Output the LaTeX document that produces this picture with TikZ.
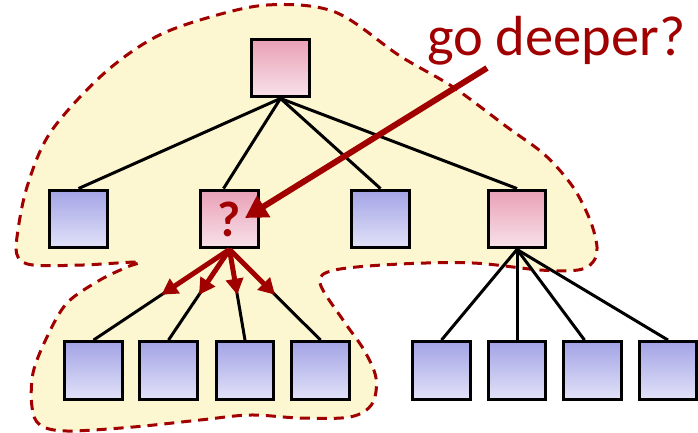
\documentclass[tikz,border=0pt]{standalone}
\usepackage{fontspec}
\setmainfont{Carlito}
\usetikzlibrary{arrows.meta,calc}
\definecolor{deepred}{RGB}{160,0,0}
\definecolor{blobfill}{RGB}{252,247,208}
\definecolor{pinktop}{RGB}{233,160,182}
\definecolor{pinkbot}{RGB}{248,226,234}
\definecolor{bluetop}{RGB}{163,163,230}
\definecolor{bluebot}{RGB}{226,226,248}
\begin{document}
\begin{tikzpicture}[x=1pt,y=-1pt,
  box/.style={draw=black, line width=3.4pt, minimum size=57.5pt, inner sep=0pt},
  pinkbox/.style={box, top color=pinktop, bottom color=pinkbot},
  bluebox/.style={box, top color=bluetop, bottom color=bluebot},
  edge/.style={line width=3pt, black},
  bigarrow/.style={deepred, line width=6pt, -{Triangle[length=22pt,width=24pt]}},
  smallarrow/.style={deepred, line width=5pt, -{Triangle[length=16pt,width=17pt]}},
  region/.style={fill=blobfill, draw=deepred, line width=3pt, dash pattern=on 10pt off 7pt}
]
\useasboundingbox (0,0) rectangle (698,432);

% explored region of the search tree
\draw[region] plot[smooth cycle, tension=0.55] coordinates {
  (200,20) (267,5) (335,12) (400,56) (453,87) (507,127) (545,155) (573,187)
  (590,220) (597,247) (593,262) (578,270) (540,270) (473,263) (400,264)
  (335,270) (320,283) (343,320) (364,350) (376,378) (372,404) (350,417)
  (300,418) (250,415) (200,420) (133,427) (67,431) (40,425) (32,407)
  (33,373) (47,337) (67,303) (100,280) (127,267) (138,262) (83,265)
  (33,265) (18,257) (17,237) (27,187) (50,133) (100,77) (150,40)};

% tree nodes
\node[pinkbox] (r) at (280.5,68) {};
\node[bluebox] (a) at (78.5,219) {};
\node[pinkbox, text=deepred, font=\bfseries\fontsize{50}{50}\selectfont] (q) at (229.5,219) {?};
\node[bluebox] (b) at (380.5,219) {};
\node[pinkbox] (p) at (517,219) {};

\node[bluebox] (c1) at (93.5,370.5) {};
\node[bluebox] (c2) at (168.5,370.5) {};
\node[bluebox] (c3) at (245,370.5) {};
\node[bluebox] (c4) at (320.5,370.5) {};
\node[bluebox] (d1) at (441.5,370.5) {};
\node[bluebox] (d2) at (517,370.5) {};
\node[bluebox] (d3) at (592.5,370.5) {};
\node[bluebox] (d4) at (668,370.5) {};

% tree edges
\draw[edge] (r.south) -- (a.north);
\draw[edge] (r.south) -- ([xshift=-6pt]q.north);
\draw[edge] (r.south) -- (b.north);
\draw[edge] (r.south) -- (p.north);
\foreach \c in {c1,c2,c3,c4} \draw[edge] (q.south) -- (\c.north);
\draw[edge] (p.south) -- (d1.north);
\draw[edge] (p.south) -- (d2.north);
\draw[edge] (p.south) -- ([xshift=-8pt]d3.north);
\draw[edge] (p.south) -- (d4.north);

% expansion arrows
\foreach \c in {c1,c2,c3,c4}
  \draw[smallarrow] (q.south) -- ($(q.south)!0.5!(\c.north)$);

% label and pointer
\node[anchor=base west, text=deepred, font=\fontsize{56.5}{56.5}\selectfont, inner sep=0pt] (lbl) at (427,55) {go deeper?};
\coordinate (src) at (487,68);
\coordinate (tgt) at (245,218);
\draw[bigarrow] (src) -- (tgt);
\end{tikzpicture}
\end{document}
